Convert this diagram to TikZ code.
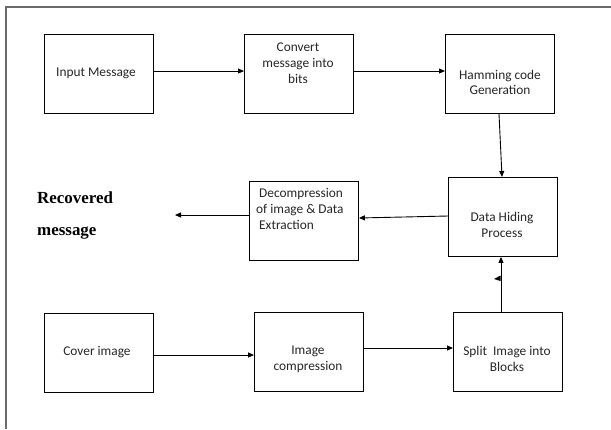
\documentclass[tikz,border=0pt]{standalone}
\usepackage{fontspec}
\setmainfont{Carlito}
\newfontfamily\headfont{Liberation Serif}
\usetikzlibrary{arrows.meta}
\begin{document}
\begin{tikzpicture}[x=1bp,y=-1bp,
  blk/.style={draw=black,line width=0.9bp,minimum width=109bp,minimum height=79bp,inner sep=0pt,anchor=north west},
  txt/.style={font=\fontsize{13.4}{15.8}\selectfont,text=black!85,align=center,inner sep=0pt},
  flow/.style={draw=black,line width=0.9bp,-{Triangle[length=6bp,width=5bp]}},
  frame/.style={draw=black!58,line width=2bp}]
\useasboundingbox (0,0) rectangle (611,429);
% page frame
\draw[frame] (611,6.5) -- (6,6.5) -- (6,429);
% blocks, top row
\node[blk] (inp) at (44,34) {};
\node[blk] (conv) at (244,34) {};
\node[blk] (ham) at (445,34) {};
% blocks, middle row
\node[blk] (dec) at (249,181) {};
\node[blk] (hide) at (448,177) {};
% blocks, bottom row
\node[blk] (cov) at (44,313) {};
\node[blk] (comp) at (254,312) {};
\node[blk] (split) at (453,312) {};
% block texts
\node[txt] (tinp) at (96,73) {Input Message};
\node[txt] (tconv) at (298,63) {Convert\\message into\\bits};
\node[txt] (tham) at (500,82.5) {Hamming code\\Generation};
\node[txt,align=left,anchor=north west] (tdec) at (256,188.5) {\ Decompression\\of image \& Data\\\ Extraction};
\node[txt] (thide) at (502,225) {Data Hiding\\Process};
\node[txt] (tcov) at (97,352) {Cover image};
\node[txt] (tcomp) at (308,359) {Image\\compression};
\node[txt] (tsplit) at (507,359) {Split \ Image into\\Blocks};
% output label
\node[font=\headfont\bfseries\fontsize{17}{32}\selectfont,align=left,anchor=north west,inner sep=0pt] (rec) at (37,191.5) {Recovered\\message};
\coordinate (recin) at (175,215);
% connectors
\draw[flow] (inp.east |- 0,71) -- (conv.west |- 0,71);
\draw[flow] (conv.east |- 0,71) -- (ham.west |- 0,71);
\draw[flow] (ham.south -| 499,0) -- (hide.north -| 502,0);
\draw[flow] (hide.west |- 0,216) -- (dec.east |- 0,218);
\draw[flow] (dec.west |- 0,215) -- (recin);
\draw[flow] (cov.east |- 0,355) -- (comp.west |- 0,355);
\draw[flow] (comp.east |- 0,348) -- (split.west |- 0,348);
\draw[flow] (split.north -| 501,0) -- (hide.south -| 501,0);
% loose arrowhead on the rising line
\fill[black] (500.5,275.5) -- (494,279) -- (500.5,281) -- cycle;
\end{tikzpicture}
\end{document}
